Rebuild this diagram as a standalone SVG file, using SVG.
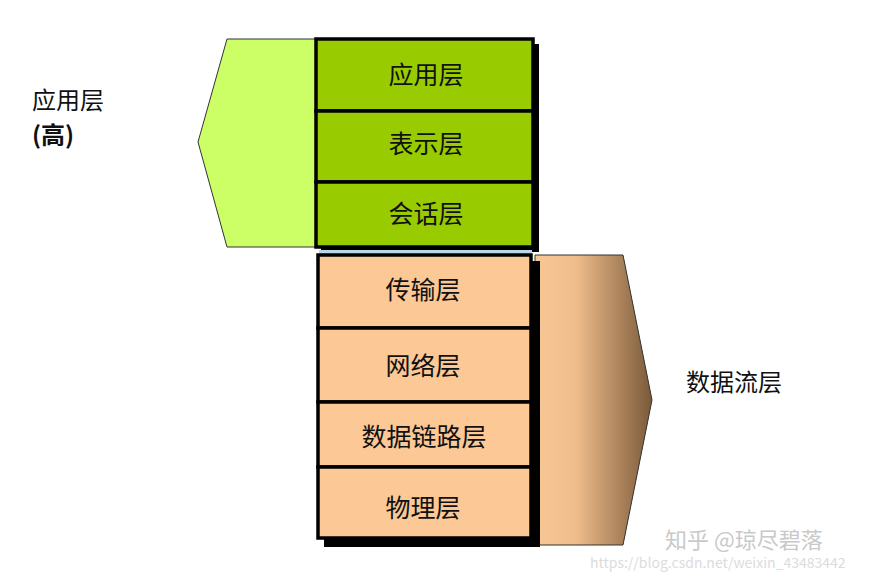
<svg xmlns="http://www.w3.org/2000/svg" width="873" height="575" viewBox="0 0 873 575">
<defs>
<linearGradient id="brown" x1="0" y1="0" x2="1" y2="0">
<stop offset="0" stop-color="#f8c796"/>
<stop offset="0.35" stop-color="#efbd8b"/>
<stop offset="1" stop-color="#7a5a3a"/>
</linearGradient>
<style>
.t{font-family:"Noto Sans CJK SC","Liberation Serif",serif;font-size:25px;fill:#111;text-anchor:middle;dominant-baseline:central}
.lbl{font-family:"Noto Sans CJK SC","Liberation Serif",serif;font-size:24px;fill:#111}
.box{stroke:#000;stroke-width:3.5}
.g{fill:#99cc00}
.o{fill:#fbc896}
.wm{font-family:"Noto Sans CJK SC","Liberation Sans",sans-serif;fill:#c9c9c9}
</style>
</defs>
<rect width="873" height="575" fill="#fff"/>
<g id="upper-arrow">
<polygon points="227,39 316,39 316,247 227,247 198,142" fill="#ccff66" stroke="#333" stroke-width="1"/>
</g>
<g id="lower-arrow">
<polygon points="535,255 623,255 652,400 623,545 535,545" fill="url(#brown)" stroke="#333" stroke-width="1"/>
</g>
<g id="green-shadow"><rect x="321" y="44" width="218" height="208" fill="#000"/></g>
<g id="orange-shadow"><rect x="324" y="261" width="216" height="286" fill="#000"/></g>
<rect x="319" y="250" width="213" height="4" fill="#b8d8e8"/>
<g id="app-layer"><rect class="box g" x="316" y="39" width="217" height="72"/><text class="t" x="426" y="73">应用层</text></g>
<g id="presentation-layer"><rect class="box g" x="316" y="111" width="217" height="71"/><text class="t" x="426" y="142">表示层</text></g>
<g id="session-layer"><rect class="box g" x="316" y="182" width="217" height="65"/><text class="t" x="426" y="212">会话层</text></g>
<g id="transport-layer"><rect class="box o" x="318" y="255" width="213" height="73"/><text class="t" x="423" y="288">传输层</text></g>
<g id="network-layer"><rect class="box o" x="318" y="328" width="213" height="74"/><text class="t" x="423" y="364">网络层</text></g>
<g id="datalink-layer"><rect class="box o" x="318" y="402" width="213" height="65"/><text class="t" x="424" y="435">数据链路层</text></g>
<g id="physical-layer"><rect class="box o" x="318" y="467" width="213" height="71"/><text class="t" x="423" y="506">物理层</text></g>
<g id="connectors"></g>
<g id="label-high"><text class="lbl" x="32" y="109">应用层</text><text class="lbl" x="32" y="144" font-weight="bold">(高)</text></g>
<g id="label-dataflow"><text class="lbl" x="686" y="391">数据流层</text></g>
<text class="wm" x="665" y="548" font-size="22">知乎 @琼尽碧落</text>
<text class="wm" x="590" y="568" font-size="14" style="fill:#dcdcdc">https://blog.csdn.net/weixin_43483442</text>
</svg>
